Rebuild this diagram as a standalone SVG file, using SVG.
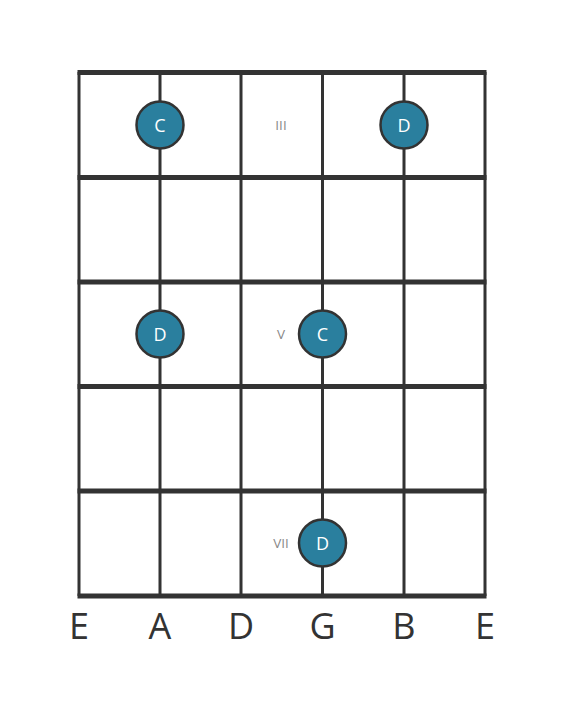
<svg xmlns="http://www.w3.org/2000/svg" width="566" height="711" viewBox="0 0 566 711">
<style>
.fret{stroke:#333;stroke-width:5;}
.str{stroke:#333;stroke-width:3;}
.dot circle{fill:#2a7f9e;stroke:#333;stroke-width:2.5;}
.dot text{fill:#fff;font-family:"Open Sans","DejaVu Sans",sans-serif;font-size:18px;text-anchor:middle;dominant-baseline:central;}
.pos{fill:#888888;font-family:"Open Sans","DejaVu Sans",sans-serif;font-size:13.5px;text-anchor:middle;dominant-baseline:central;}
.name{fill:#333;font-family:"Open Sans","DejaVu Sans",sans-serif;font-size:36px;text-anchor:middle;}
</style>
<rect width="566" height="711" fill="#fff"/>
<g id="connectors">
<line class="str" x1="79" y1="72" x2="79" y2="596"/>
<line class="str" x1="160" y1="72" x2="160" y2="596"/>
<line class="str" x1="241" y1="72" x2="241" y2="596"/>
<line class="str" x1="322.5" y1="72" x2="322.5" y2="596"/>
<line class="str" x1="404" y1="72" x2="404" y2="596"/>
<line class="str" x1="485" y1="72" x2="485" y2="596"/>
<line class="fret" x1="77.5" y1="72.5" x2="486.5" y2="72.5"/>
<line class="fret" x1="77.5" y1="177.5" x2="486.5" y2="177.5"/>
<line class="fret" x1="77.5" y1="282" x2="486.5" y2="282"/>
<line class="fret" x1="77.5" y1="386.5" x2="486.5" y2="386.5"/>
<line class="fret" x1="77.5" y1="491" x2="486.5" y2="491"/>
<line class="fret" x1="77.5" y1="596" x2="486.5" y2="596"/>
</g>
<g id="positions">
<text class="pos" x="281" y="125">III</text>
<text class="pos" x="281" y="334">V</text>
<text class="pos" x="281" y="543">VII</text>
</g>
<g id="dot-c1" class="dot"><circle cx="160" cy="125" r="23.5"/><text x="160" y="125">C</text></g>
<g id="dot-d1" class="dot"><circle cx="404" cy="125" r="23.5"/><text x="404" y="125">D</text></g>
<g id="dot-d2" class="dot"><circle cx="160" cy="334" r="23.5"/><text x="160" y="334">D</text></g>
<g id="dot-c2" class="dot"><circle cx="322.5" cy="334" r="23.5"/><text x="322.5" y="334">C</text></g>
<g id="dot-d3" class="dot"><circle cx="322.5" cy="543" r="23.5"/><text x="322.5" y="543">D</text></g>
<g id="strings">
<text class="name" x="79" y="639">E</text>
<text class="name" x="160" y="639">A</text>
<text class="name" x="241" y="639">D</text>
<text class="name" x="322.5" y="639">G</text>
<text class="name" x="404" y="639">B</text>
<text class="name" x="485" y="639">E</text>
</g>
</svg>
